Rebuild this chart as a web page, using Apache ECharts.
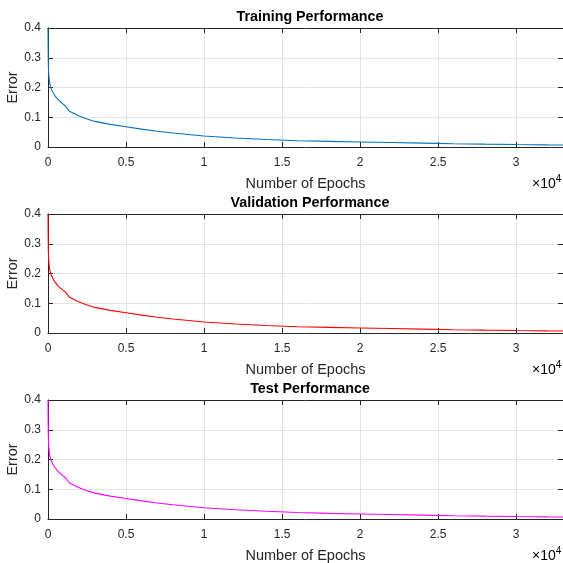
<!DOCTYPE html>
<html>
<head>
<meta charset="utf-8">
<script src="https://cdn.jsdelivr.net/npm/echarts@6/dist/echarts.min.js"></script>
<style>
  html, body { margin: 0; padding: 0; background: #fff; }
  #chart { width: 563px; height: 563px; }
</style>
</head>
<body>
<div id="chart"></div>
<script>
// 数据
var epochs   = [0, 10, 20, 40, 70, 120, 200, 300, 450, 630, 800, 950, 1060, 1150, 1250, 1380, 1600, 2000, 2500, 3000, 3500, 4000, 5000, 6000, 7000, 8000, 9000, 10000, 12000, 14000, 16000, 18000, 20000, 22000, 24000, 26000, 28000, 30000, 32000, 33000];
var trainErr = [0.40, 0.33, 0.28, 0.25, 0.23, 0.21, 0.197, 0.185, 0.172, 0.160, 0.152, 0.145, 0.140, 0.136, 0.128, 0.120, 0.114, 0.104, 0.094, 0.086, 0.081, 0.076, 0.068, 0.060, 0.053, 0.047, 0.042, 0.037, 0.030, 0.025, 0.021, 0.019, 0.017, 0.015, 0.013, 0.011, 0.0095, 0.0082, 0.0072, 0.0068];
var valErr   = [0.40, 0.33, 0.28, 0.25, 0.23, 0.21, 0.196, 0.184, 0.171, 0.159, 0.151, 0.144, 0.140, 0.136, 0.128, 0.120, 0.114, 0.104, 0.094, 0.086, 0.081, 0.076, 0.068, 0.060, 0.053, 0.047, 0.042, 0.037, 0.030, 0.025, 0.021, 0.019, 0.017, 0.015, 0.013, 0.011, 0.0095, 0.0082, 0.0072, 0.0068];
var testErr  = [0.40, 0.33, 0.28, 0.25, 0.23, 0.21, 0.198, 0.186, 0.173, 0.161, 0.153, 0.146, 0.141, 0.137, 0.129, 0.121, 0.115, 0.105, 0.095, 0.087, 0.082, 0.077, 0.069, 0.061, 0.054, 0.048, 0.043, 0.038, 0.031, 0.026, 0.022, 0.019, 0.017, 0.015, 0.013, 0.011, 0.0095, 0.0082, 0.0072, 0.0068];
var titles = ['Training Performance', 'Validation Performance', 'Test Performance'];
var colors = ['#0072BD', '#FF0000', '#FF00FF'];

var font = 'Liberation Sans, Arial, Helvetica, sans-serif';
var axisColor = '#262626';
var tops = [28, 214, 400];
var plotH = 119;

var chart = echarts.init(document.getElementById('chart'));

function pairs(ys) {
  return epochs.map(function (x, i) { return [x, ys[i]]; });
}
var allErr = [trainErr, valErr, testErr];

var grids = [], xAxes = [], yAxes = [], series = [], titleList = [], graphics = [];
tops.forEach(function (top, k) {
  grids.push({ left: 48, right: 0, top: top, height: plotH, containLabel: false, outerBoundsMode: 'none' });
  // 底部x轴
  xAxes.push({
    type: 'value', gridIndex: k, min: 0, max: 33000, interval: 5000, position: 'bottom',
    name: 'Number of Epochs', nameLocation: 'middle', nameGap: 29,
    nameTextStyle: { fontFamily: font, fontSize: 14.5, color: axisColor },
    axisLine: { show: true, onZero: false, lineStyle: { color: axisColor, width: 1 } },
    axisTick: { show: true, inside: true, length: 5, lineStyle: { color: axisColor } },
    axisLabel: {
      fontFamily: font, fontSize: 12, color: axisColor, margin: 10, showMaxLabel: false,
      formatter: function (v) { return String(v / 10000); }
    },
    splitLine: { show: true, lineStyle: { color: '#e3e3e3', width: 1 } }
  });
  // 顶部x轴（只有刻度）
  xAxes.push({
    type: 'value', gridIndex: k, min: 0, max: 33000, interval: 5000, position: 'top',
    axisLine: { show: true, onZero: false, lineStyle: { color: axisColor, width: 1 } },
    axisTick: { show: true, inside: true, length: 5, lineStyle: { color: axisColor } },
    axisLabel: { show: false },
    splitLine: { show: false }
  });
  // 左y轴
  yAxes.push({
    type: 'value', gridIndex: k, min: 0, max: 0.4, interval: 0.1, position: 'left',
    axisLine: { show: true, onZero: false, lineStyle: { color: axisColor, width: 1 } },
    axisTick: { show: true, inside: true, length: 5, lineStyle: { color: axisColor } },
    axisLabel: {
      fontFamily: font, fontSize: 12, color: axisColor, margin: 7,
      formatter: function (v) { return String(Math.round(v * 10) / 10); }
    },
    splitLine: { show: true, lineStyle: { color: '#e3e3e3', width: 1 } }
  });
  // 右y轴（只有刻度）
  yAxes.push({
    type: 'value', gridIndex: k, min: 0, max: 0.4, interval: 0.1, position: 'right',
    axisLine: { show: true, onZero: false, lineStyle: { color: axisColor, width: 1 } },
    axisTick: { show: true, inside: true, length: 5, lineStyle: { color: axisColor } },
    axisLabel: { show: false },
    splitLine: { show: false }
  });
  series.push({
    type: 'line', xAxisIndex: k * 2, yAxisIndex: k * 2,
    data: pairs(allErr[k]), showSymbol: false, symbol: 'none',
    lineStyle: { color: colors[k], width: 1.1 }, animation: false
  });
  titleList.push({
    text: titles[k], left: 305, top: top - 23, textAlign: 'center',
    textStyle: { fontFamily: font, fontSize: 14.3, fontWeight: 'bold', color: '#000' }
  });
  // y轴名称 "Error"（竖排）
  graphics.push({
    type: 'text', x: 13, y: top + plotH / 2, rotation: Math.PI / 2,
    style: {
      text: 'Error', fontFamily: font, fontSize: 14.5, fill: axisColor,
      textAlign: 'center', textVerticalAlign: 'middle'
    }
  });
  graphics.push({
    type: 'text', left: 532, top: top + plotH + 27,
    style: {
      text: '{a|×10}{s|4}',
      rich: {
        a: { fontFamily: font, fontSize: 14, color: axisColor, verticalAlign: 'bottom' },
        s: { fontFamily: font, fontSize: 10, color: axisColor, verticalAlign: 'top', padding: [0, 0, 7, 0] }
      }
    }
  });
});

var option = {
  backgroundColor: '#fff',
  animation: false,
  title: titleList,
  grid: grids,
  xAxis: xAxes,
  yAxis: yAxes,
  series: series,
  graphic: graphics
};
chart.setOption(option);
</script>
</body>
</html>
